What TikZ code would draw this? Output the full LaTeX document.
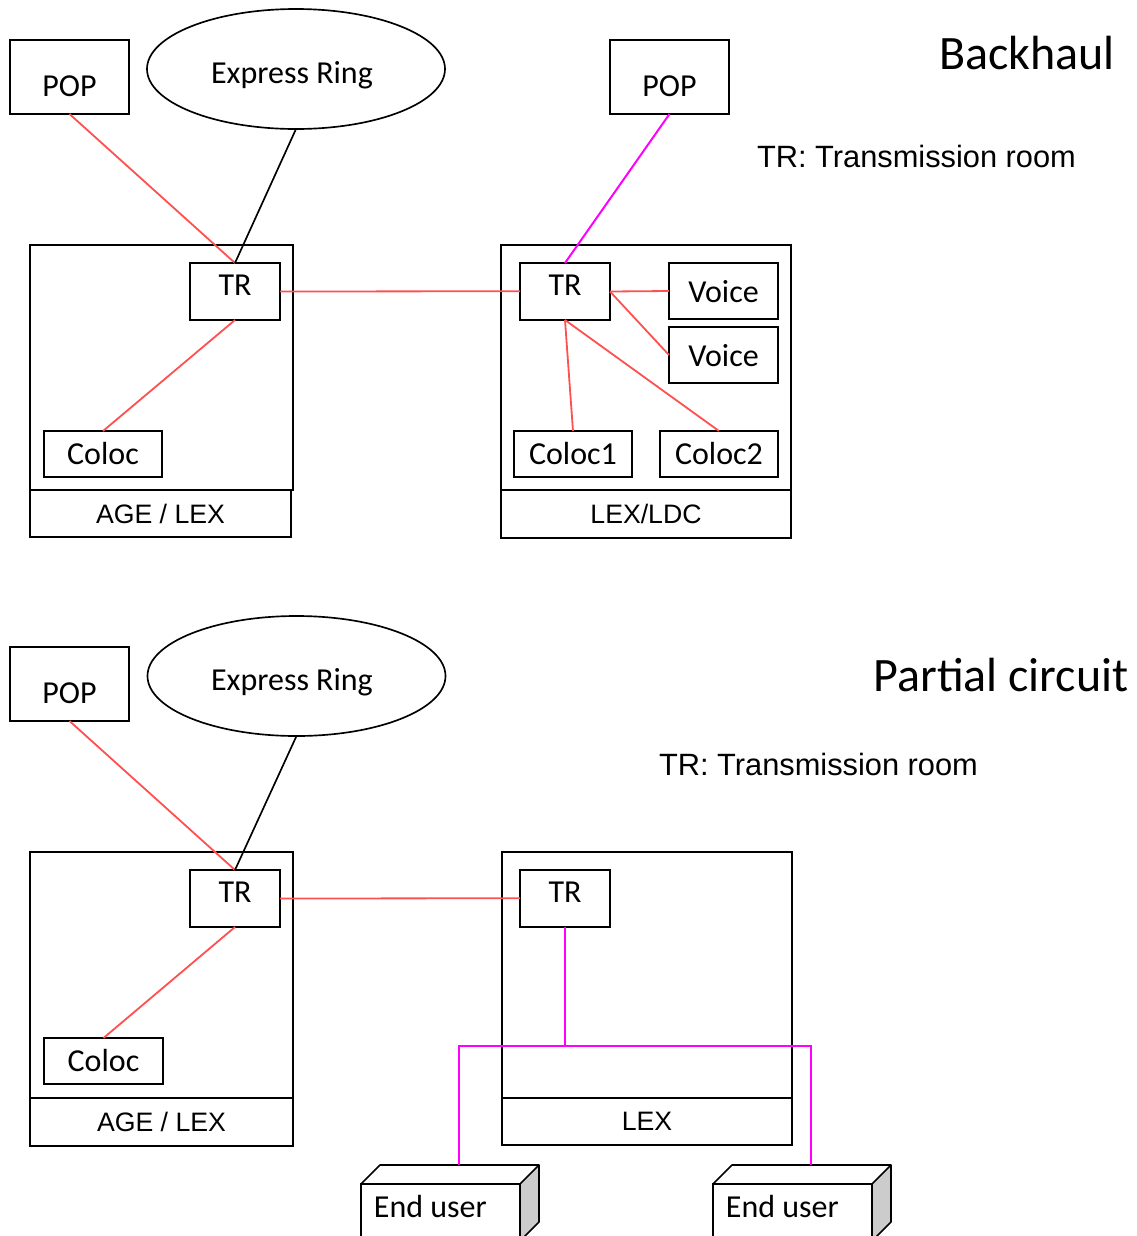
\documentclass[tikz,border=0pt]{standalone}
\usepackage{fontspec}
\setmainfont{Carlito}
\newfontfamily\arialf{Liberation Sans}
\usetikzlibrary{shapes.geometric}
\definecolor{redline}{HTML}{FF5050}
\definecolor{magline}{HTML}{FF00FF}
\tikzset{
  x=0.75pt,y=-0.75pt,
  shapeline/.style={draw=black,line width=1.25pt,inner sep=0pt,outer sep=0pt,fill=white},
  redconn/.style={draw=redline,line width=1.35pt},
  magconn/.style={draw=magline,line width=1.5pt},
  blackconn/.style={draw=black,line width=1.25pt},
  cali/.style={font=\fontsize{24}{26}\selectfont,inner sep=0pt},
  ari/.style={font=\arialf\fontsize{20}{24}\selectfont,inner sep=0pt},
  titletxt/.style={font=\fontsize{36}{38}\selectfont,inner sep=0pt},
  sidetxt/.style={font=\arialf\fontsize{23.1}{26}\selectfont,inner sep=0pt},
}
% name, x0,y0,x1,y1, text, text style, text shift in px (down)
\newcommand\bx[8]{%
  \pgfmathsetmacro\bxw{(#4-#2)*0.75}\pgfmathsetmacro\bxh{(#5-#3)*0.75}%
  \pgfmathsetmacro\bxs{-(#8)*0.75}%
  \node[shapeline,minimum width=\bxw pt,minimum height=\bxh pt,
    label={[name=#1t,#7,yshift=\bxs pt]center:#6}] (#1) at ({(#2+#4)/2},{(#3+#5)/2}) {};}
% name, left x
\newcommand\usrbox[2]{%
  \fill[black!20] (#2+159,1184) -- (#2+178,1165) -- (#2+178,1222) -- (#2+159,1241) -- cycle;
  \draw[blackconn,line join=round] (#2,1184) -- (#2+19,1165) -- (#2+178,1165) -- (#2+178,1222) -- (#2+159,1241);
  \draw[blackconn] (#2+159,1184) -- (#2+178,1165);
  \node[shapeline,minimum width=119.25pt,minimum height=56pt,anchor=north west,
    label={[name=#1t,cali,anchor=west,xshift=9.5pt,yshift=11.5pt]west:End user}] (#1) at (#2,1184) {};
  \coordinate (#1top) at (#2+98,1165);}
\begin{document}
\begin{tikzpicture}
\useasboundingbox (0,0) rectangle (1136,1236);
\clip (0,0) rectangle (1136,1236);
% ---------- Backhaul ----------
\bx{popA}{10}{40}{129}{114}{POP}{cali}{9}
\node[shapeline,ellipse,minimum width=223.5pt,minimum height=90pt,
  label={[name=ringAt,cali,xshift=-3pt,yshift=-5pt,inner sep=0pt]center:Express Ring}] (ringA) at (296,69) {};
\bx{popB}{610}{40}{729}{114}{POP}{cali}{9}
\bx{ageA}{30}{245}{293}{490}{}{cali}{0}
\bx{ageAl}{30}{490}{291}{537}{AGE / LEX}{ari}{0}
\bx{trA}{190}{263}{280}{320}{TR}{cali}{-6}
\bx{colA}{44}{431}{162}{477}{Coloc}{cali}{-1}
\bx{lexA}{501}{245}{791}{490}{}{cali}{0}
\bx{lexAl}{501}{490}{791}{538}{LEX/LDC}{ari}{0}
\bx{trB}{520}{263}{610}{320}{TR}{cali}{-6}
\bx{voiceA}{669}{263}{778}{319}{Voice}{cali}{1}
\bx{voiceB}{669}{327}{778}{383}{Voice}{cali}{1}
\bx{colB}{514}{431}{632}{477}{Coloc1}{cali}{-1}
\bx{colC}{660}{431}{778}{477}{Coloc2}{cali}{-1}
\draw[redconn] (popA.south) -- (trA.north);
\draw[blackconn] (ringA.south) -- (trA.north);
\draw[redconn] (trA.east) -- ([yshift=0.2pt]trB.west);
\draw[redconn] (trA.south) -- (colA.north);
\draw[magconn] (popB.south) -- (trB.north);
\draw[redconn] (trB.east) -- (voiceA.west);
\draw[redconn] (trB.east) -- (voiceB.west);
\draw[redconn] (trB.south) -- (colB.north);
\draw[redconn] (trB.south) -- (colC.north);
\node[titletxt] (titleA) at (1027,53) {Backhaul};
\node[sidetxt] (noteA) at (916.5,156.5) {TR: Transmission room};
% ---------- Partial circuit ----------
\bx{popC}{10}{647}{129}{721}{POP}{cali}{9}
\node[shapeline,ellipse,minimum width=223.5pt,minimum height=90pt,
  label={[name=ringBt,cali,xshift=-3.4pt,yshift=-5pt,inner sep=0pt]center:Express Ring}] (ringB) at (296.5,676) {};
\bx{ageB}{30}{852}{293}{1098}{}{cali}{0}
\bx{ageBl}{30}{1098}{293}{1146}{AGE / LEX}{ari}{0}
\bx{trC}{190}{870}{280}{927}{TR}{cali}{-6}
\bx{colD}{44}{1038}{163}{1084}{Coloc}{cali}{-1}
\bx{lexB}{502}{852}{792}{1098}{}{cali}{0}
\bx{lexBl}{502}{1098}{792}{1145}{LEX}{ari}{0}
\bx{trD}{520}{870}{610}{927}{TR}{cali}{-6}
\usrbox{euA}{361}
\usrbox{euB}{713}
\draw[redconn] (popC.south) -- (trC.north);
\draw[blackconn] (ringB.south) -- (trC.north);
\draw[redconn] (trC.east) -- ([yshift=0.2pt]trD.west);
\draw[redconn] (trC.south) -- (colD.north);
\coordinate (junc) at (565,1046);
\draw[magconn] (trD.south) -- (junc);
\draw[magconn] (euAtop) |- (junc) -| (euBtop);
\node[titletxt] (titleB) at (1001,675) {Partial circuit};
\node[sidetxt] (noteB) at (818.5,764.5) {TR: Transmission room};
\end{tikzpicture}
\end{document}
